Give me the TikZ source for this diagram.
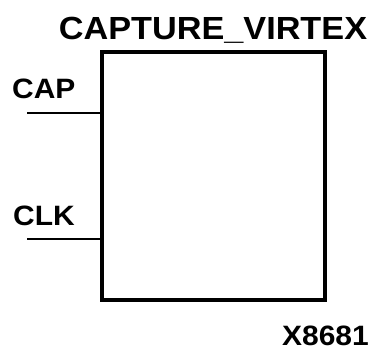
\documentclass[tikz,border=0pt]{standalone}
\usepackage{fontspec}
\setmainfont{Liberation Sans}
\begin{document}
\begin{tikzpicture}[x=1pt,y=1pt,
  blk/.style={draw, line width=4pt, minimum width=223pt, minimum height=248pt, inner sep=0pt, outer sep=0pt},
  pin/.style={line width=2pt},
  lbl/.style={inner sep=0pt, font=\bfseries\fontsize{28}{28}\selectfont, xscale=1.07},
  ttl/.style={inner sep=0pt, font=\bfseries\fontsize{32}{32}\selectfont, xscale=1.07}]
\useasboundingbox (0,0) rectangle (374,349);
\node[blk] (box) at (213,173) {};
\node[ttl, anchor=base] (title) at (213,309) {CAPTURE\_VIRTEX};
\node[lbl, anchor=base west] (cap) at (12,251) {CAP};
\node[lbl, anchor=base west] (clk) at (13,124) {CLK};
\node[lbl, anchor=base east] (id) at (369,4) {X8681};
\coordinate (capend) at (27,236);
\coordinate (clkend) at (27,110);
\draw[pin] (capend) -- (capend -| box.west);
\draw[pin] (clkend) -- (clkend -| box.west);
\end{tikzpicture}
\end{document}
